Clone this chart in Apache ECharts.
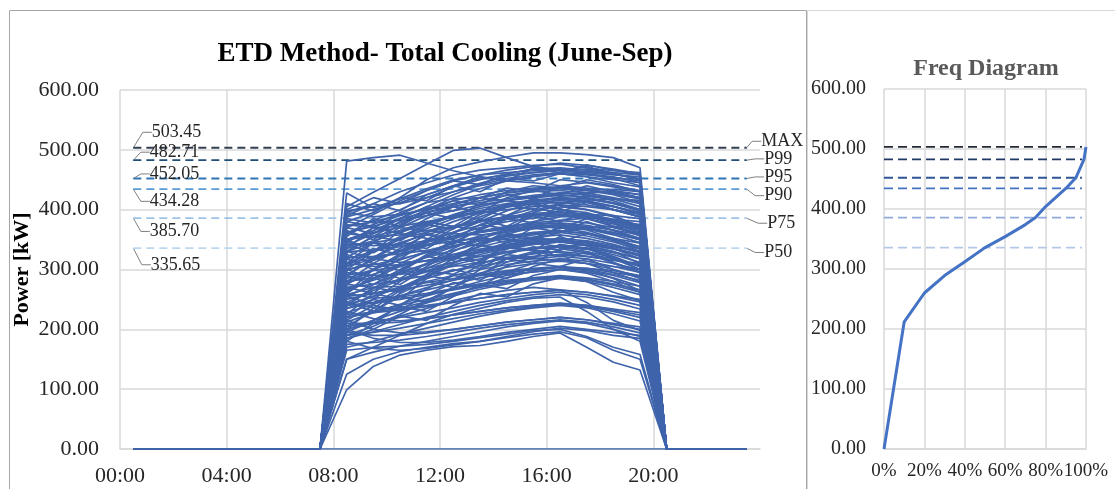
<!DOCTYPE html>
<html>
<head>
<meta charset="utf-8">
<script src="https://cdn.jsdelivr.net/npm/echarts@6/dist/echarts.min.js"></script>
<style>
  html, body { margin: 0; padding: 0; background: #fff; }
  #chart { width: 1115px; height: 489px; }
</style>
</head>
<body>
<div id="chart"></div>
<script>
// x axis tick labels (every 4 h)
const timeTicks = ['00:00', '04:00', '08:00', '12:00', '16:00', '20:00'];
// plant off: hours 0-7 and 20-23
const offBefore = [0, 0, 0, 0, 0, 0, 0, 0];
const offAfter = [0, 0, 0, 0];
// daily cooling load, hours 08:00 .. 19:00 [kW]
const dayProfiles = [
  [481, 487, 491, 478, 465, 455, 448, 445, 440, 436, 432, 425],
  [405, 429, 452, 476, 499, 503, 487, 472, 466, 460, 455, 445],
  [380, 395, 420, 450, 470, 480, 488, 495, 495, 492, 487, 470],
  [428, 403, 418, 435, 450, 458, 462, 465, 468, 462, 458, 455],
  [395, 410, 430, 445, 458, 466, 470, 474, 476, 470, 465, 462],
  [370, 392, 415, 432, 448, 458, 466, 472, 478, 474, 468, 460],
  [360, 382, 400, 420, 438, 450, 460, 468, 470, 466, 460, 452],
  [388, 400, 412, 425, 440, 452, 458, 462, 466, 468, 462, 458],
  [345, 370, 392, 412, 430, 444, 456, 462, 466, 464, 460, 450],
  [398, 405, 410, 420, 430, 440, 448, 455, 460, 458, 454, 448],
  [350, 365, 385, 405, 425, 442, 452, 458, 462, 460, 452, 440],
  [330, 355, 380, 400, 420, 435, 448, 456, 460, 455, 450, 445],
  [395, 388, 392, 400, 410, 420, 428, 432, 435, 432, 428, 420],
  [372, 380, 390, 402, 415, 425, 432, 436, 438, 434, 426, 418],
  [340, 360, 378, 395, 408, 420, 428, 434, 436, 432, 425, 412],
  [320, 345, 370, 390, 405, 415, 424, 430, 432, 428, 420, 410],
  [385, 378, 382, 390, 398, 408, 415, 420, 424, 422, 418, 415],
  [362, 372, 385, 395, 405, 412, 418, 424, 428, 425, 418, 405],
  [300, 330, 355, 375, 392, 405, 415, 422, 425, 420, 412, 400],
  [350, 356, 365, 378, 390, 402, 410, 416, 420, 418, 410, 398],
  [335, 348, 362, 376, 388, 398, 406, 412, 415, 412, 405, 395],
  [310, 330, 350, 368, 385, 398, 408, 414, 418, 414, 406, 392],
  [375, 370, 372, 380, 388, 395, 400, 405, 408, 405, 400, 392],
  [290, 318, 342, 362, 380, 394, 404, 410, 412, 408, 400, 388],
  [360, 355, 358, 365, 372, 380, 386, 390, 392, 388, 382, 375],
  [340, 345, 352, 362, 372, 382, 388, 392, 395, 390, 382, 372],
  [318, 330, 345, 358, 370, 380, 388, 394, 396, 392, 384, 370],
  [298, 315, 332, 348, 362, 374, 384, 390, 392, 388, 380, 368],
  [275, 300, 322, 340, 356, 370, 380, 386, 390, 385, 376, 362],
  [330, 332, 338, 346, 355, 364, 372, 378, 382, 378, 370, 360],
  [345, 340, 342, 348, 355, 362, 368, 372, 375, 372, 366, 358],
  [305, 318, 330, 342, 352, 362, 370, 376, 378, 374, 366, 352],
  [285, 300, 316, 330, 344, 356, 366, 372, 375, 370, 362, 350],
  [262, 285, 305, 322, 338, 352, 364, 370, 372, 368, 358, 345],
  [320, 322, 326, 332, 340, 348, 355, 360, 364, 360, 352, 344],
  [300, 308, 318, 328, 338, 348, 356, 362, 365, 360, 350, 338],
  [278, 292, 306, 320, 332, 344, 352, 358, 362, 356, 346, 334],
  [255, 275, 294, 310, 325, 338, 348, 354, 358, 352, 342, 330],
  [310, 305, 308, 315, 322, 330, 338, 344, 348, 345, 338, 330],
  [290, 298, 306, 315, 325, 334, 342, 348, 352, 348, 340, 328],
  [268, 282, 296, 308, 320, 332, 340, 346, 350, 345, 336, 322],
  [245, 265, 282, 298, 312, 325, 335, 342, 346, 340, 330, 318],
  [330, 318, 312, 314, 320, 328, 336, 342, 346, 342, 334, 325],
  [280, 286, 294, 302, 312, 322, 330, 336, 340, 336, 328, 318],
  [258, 270, 284, 296, 308, 318, 328, 334, 338, 334, 325, 312],
  [240, 255, 270, 285, 298, 310, 320, 326, 330, 326, 318, 305],
  [295, 290, 292, 298, 305, 312, 318, 322, 325, 322, 315, 308],
  [270, 275, 282, 290, 298, 306, 313, 318, 322, 318, 310, 300],
  [250, 260, 270, 280, 290, 300, 308, 314, 318, 314, 305, 295],
  [228, 242, 256, 270, 282, 294, 304, 310, 314, 310, 300, 288],
  [275, 270, 272, 278, 285, 292, 298, 302, 305, 302, 295, 288],
  [255, 260, 266, 274, 282, 290, 296, 300, 304, 300, 292, 282],
  [235, 245, 256, 266, 276, 286, 294, 300, 303, 298, 290, 278],
  [212, 228, 242, 256, 268, 280, 290, 296, 300, 296, 286, 272],
  [260, 252, 254, 260, 268, 276, 282, 286, 290, 286, 280, 272],
  [240, 244, 250, 258, 266, 274, 280, 286, 288, 284, 276, 266],
  [220, 230, 240, 250, 260, 270, 278, 284, 287, 282, 274, 262],
  [200, 215, 230, 244, 256, 267, 276, 282, 285, 280, 270, 258],
  [245, 236, 235, 240, 246, 252, 258, 262, 265, 262, 256, 250],
  [225, 228, 232, 238, 245, 252, 258, 262, 266, 262, 255, 246],
  [205, 212, 220, 228, 236, 245, 252, 258, 262, 258, 250, 240],
  [185, 196, 208, 220, 230, 240, 248, 254, 258, 254, 246, 234],
  [230, 218, 214, 218, 224, 230, 236, 240, 244, 240, 234, 228],
  [210, 210, 212, 218, 224, 230, 236, 240, 243, 240, 232, 224],
  [190, 195, 202, 210, 218, 226, 232, 238, 242, 238, 230, 220],
  [170, 180, 192, 202, 212, 222, 230, 236, 240, 236, 226, 214],
  [215, 200, 194, 196, 200, 206, 212, 216, 220, 216, 210, 204],
  [195, 190, 190, 194, 200, 206, 212, 216, 220, 216, 208, 200],
  [175, 178, 182, 188, 195, 202, 208, 212, 216, 212, 204, 194],
  [150, 162, 172, 180, 188, 196, 204, 210, 214, 210, 200, 188],
  [99, 138, 157, 165, 171, 173, 180, 188, 194, 170, 145, 132],
  [125, 150, 163, 170, 176, 180, 186, 192, 196, 186, 165, 150],
  [165, 170, 172, 175, 180, 186, 192, 198, 200, 188, 170, 158],
  [180, 168, 165, 168, 174, 180, 188, 196, 202, 198, 190, 185],
  [200, 185, 178, 178, 182, 188, 195, 200, 205, 200, 195, 190],
  [220, 250, 280, 305, 330, 350, 368, 380, 388, 392, 390, 385],
  [200, 235, 265, 292, 318, 340, 358, 372, 382, 386, 384, 380],
  [260, 290, 318, 345, 368, 388, 404, 418, 428, 432, 434, 430],
  [240, 268, 296, 322, 346, 366, 384, 398, 410, 416, 418, 415],
  [180, 210, 240, 268, 292, 314, 334, 350, 362, 370, 372, 368],
  [330, 345, 340, 330, 325, 322, 320, 318, 315, 310, 305, 300],
  [380, 372, 360, 352, 346, 340, 336, 332, 328, 322, 316, 310],
  [300, 310, 305, 298, 292, 290, 292, 296, 300, 302, 298, 290],
  [350, 362, 370, 365, 360, 358, 362, 368, 372, 368, 360, 350],
  [280, 300, 325, 340, 348, 352, 350, 345, 338, 330, 320, 305],
  [360, 375, 395, 412, 418, 420, 415, 408, 400, 390, 378, 365],
  [240, 255, 270, 290, 310, 330, 345, 352, 350, 340, 320, 300],
  [310, 320, 330, 345, 362, 380, 398, 412, 422, 428, 430, 425],
  [190, 205, 225, 248, 270, 292, 312, 328, 338, 342, 336, 325],
  [220, 228, 236, 246, 258, 272, 286, 298, 305, 300, 285, 265],
  [150, 170, 190, 210, 225, 235, 245, 252, 254, 230, 200, 180],
  [200, 210, 222, 235, 248, 258, 265, 270, 266, 245, 215, 198],
  [310, 345, 330, 360, 350, 375, 368, 390, 380, 395, 372, 360],
  [270, 260, 295, 285, 320, 310, 340, 332, 355, 340, 330, 310],
  [350, 330, 365, 380, 372, 398, 390, 410, 402, 415, 400, 388],
  [225, 260, 250, 285, 300, 290, 318, 330, 322, 335, 318, 300],
  [390, 410, 398, 425, 440, 430, 452, 448, 460, 455, 445, 438],
  [300, 285, 310, 330, 318, 345, 360, 352, 370, 362, 350, 335],
  [260, 300, 285, 310, 335, 355, 345, 370, 362, 380, 365, 350],
  [335, 370, 360, 385, 405, 395, 420, 432, 425, 440, 430, 420],
  [205, 230, 255, 245, 270, 292, 285, 305, 318, 310, 295, 280],
  [365, 350, 375, 395, 385, 410, 425, 418, 440, 445, 438, 430],
  [290, 320, 345, 335, 360, 385, 372, 395, 408, 400, 390, 372],
  [245, 230, 260, 280, 270, 300, 318, 310, 335, 328, 310, 295],
  [410, 398, 420, 415, 440, 455, 448, 470, 465, 472, 460, 450],
  [318, 300, 326, 350, 342, 368, 385, 378, 400, 395, 382, 368],
  [280, 310, 298, 325, 348, 340, 365, 375, 368, 385, 372, 356],
  [235, 250, 240, 268, 290, 282, 306, 320, 314, 330, 312, 296],
  [355, 385, 372, 398, 415, 408, 430, 440, 436, 450, 442, 430],
  [195, 215, 238, 230, 255, 275, 268, 290, 300, 294, 280, 262],
  [325, 310, 335, 358, 350, 375, 390, 385, 405, 400, 388, 372],
  [370, 360, 385, 405, 398, 420, 436, 430, 450, 446, 440, 432],
  [265, 285, 275, 302, 320, 315, 340, 352, 346, 360, 348, 330],
  [305, 335, 325, 350, 372, 366, 390, 402, 396, 412, 400, 388],
  [215, 240, 232, 258, 278, 272, 296, 310, 305, 318, 300, 285],
  [342, 328, 352, 375, 368, 392, 408, 400, 420, 415, 405, 395],
  [255, 242, 268, 290, 282, 308, 325, 320, 342, 335, 322, 305],
  [400, 420, 410, 432, 448, 442, 460, 468, 462, 475, 466, 458],
  [185, 200, 222, 215, 240, 260, 254, 276, 286, 280, 262, 248],
  [290, 275, 300, 322, 315, 340, 356, 350, 372, 366, 352, 338],
  [330, 355, 348, 372, 390, 384, 405, 416, 410, 425, 415, 400],
  [240, 270, 262, 288, 308, 302, 325, 338, 332, 348, 335, 318],
  [0, 0, 0, 0, 0, 0, 0, 0, 0, 0, 0, 0]
];
// percentile levels
const pctNames = ['MAX', 'P99', 'P95', 'P90', 'P75', 'P50'];
const pctValues = [503.45, 482.71, 452.05, 434.28, 385.70, 335.65];
// frequency (duration) curve
const freqPct = [0, 10, 20, 30, 40, 50, 60, 70, 75, 80, 90, 95, 99, 100];
const freqPower = [0, 212, 260, 289, 312, 335.65, 354, 374, 385.70, 404, 434.28, 452.05, 482.71, 503.45];

const serif = "'Liberation Serif', 'Times New Roman', serif";
const mainDash = ['#333F50', '#1F4E79', '#2E75B6', '#5B9BD5', '#9DC3E6', '#BDD7EE'];
const freqDash = ['#222A35', '#1F3864', '#2F5597', '#4472C4', '#8FAADC', '#B4C7E7'];
// label offsets [dx, dy] for value (left) and name (right) labels
const leftOffsets = [[18, -15.5], [16, -8], [16, -4.6], [16, 12.2], [16, 13.2], [17, 16.6]];
const rightOffsets = [[14, -6.5], [17, -1.3], [17, -1.6], [17, 6.5], [20, 5], [17, 4.3]];

const grid = { color: '#d9d9d9', width: 1.5 };

const chart = echarts.init(document.getElementById('chart'));

const series = [];
pctValues.forEach(function (v, i) {
  series.push({
    type: 'line',
    xAxisIndex: 0, yAxisIndex: 0,
    symbol: 'circle', symbolSize: 1, showSymbol: true,
    itemStyle: { color: mainDash[i] },
    lineStyle: { color: mainDash[i], width: 1.8, type: [8, 5] },
    z: 1,
    labelLine: { show: true, length2: 9, lineStyle: { color: '#7f7f7f', width: 1 } },
    labelLayout: function (p) {
      const o = p.dataIndex === 0 ? leftOffsets[i] : rightOffsets[i];
      return { dx: o[0], dy: o[1] };
    },
    data: [
      { value: [0.5, v], label: { show: true, position: 'right', distance: 0, formatter: v.toFixed(2), fontFamily: serif, fontSize: 18, color: '#262626' } },
      { value: [23.5, v], label: { show: true, position: 'right', distance: 0, formatter: pctNames[i], fontFamily: serif, fontSize: 18, color: '#262626' } }
    ]
  });
});

dayProfiles.forEach(function (day) {
  const full = offBefore.concat(day, offAfter);
  series.push({
    type: 'line',
    xAxisIndex: 0, yAxisIndex: 0,
    showSymbol: false,
    silent: true,
    lineStyle: { color: '#3F64AB', width: 1.7 },
    z: 2,
    data: full.map(function (val, h) { return [h + 0.5, val]; })
  });
});

pctValues.forEach(function (v, i) {
  series.push({
    type: 'line',
    xAxisIndex: 1, yAxisIndex: 1,
    showSymbol: false,
    lineStyle: { color: freqDash[i], width: 1.8, type: [9, 5] },
    data: [[0, v], [98, v]]
  });
});

series.push({
  type: 'line',
  xAxisIndex: 1, yAxisIndex: 1,
  showSymbol: false,
  lineStyle: { color: '#4472C4', width: 3 },
  z: 3,
  data: freqPct.map(function (p, i) { return [p, freqPower[i]]; })
});

const option = {
  backgroundColor: '#fff',
  animation: false,
  title: [
    {
      text: 'ETD Method- Total Cooling (June-Sep)',
      left: 440, top: 36, textAlign: 'center',
      textStyle: { fontFamily: serif, fontSize: 27, fontWeight: 'bold', color: '#000' }
    },
    {
      text: 'Freq Diagram',
      left: 981, top: 52, textAlign: 'center',
      textStyle: { fontFamily: serif, fontSize: 24, fontWeight: 'bold', color: '#595959' }
    }
  ],
  graphic: [
    { type: 'rect', shape: { x: 9.5, y: 10.5, width: 797, height: 500 }, style: { fill: 'none', stroke: '#a6a6a6', lineWidth: 1 }, silent: true },
    { type: 'rect', shape: { x: 807.5, y: 10.5, width: 330, height: 500 }, style: { fill: 'none', stroke: '#d9d9d9', lineWidth: 1 }, silent: true }
  ],
  grid: [
    { left: 120, top: 90, width: 640, height: 359, outerBoundsMode: 'none' },
    { left: 884, top: 89, width: 202, height: 360, outerBoundsMode: 'none' }
  ],
  xAxis: [
    {
      type: 'value', gridIndex: 0, min: 0, max: 24, interval: 4,
      axisLine: { show: true, lineStyle: grid },
      axisTick: { show: false },
      axisLabel: {
        formatter: function (v) { return timeTicks[v / 4] || ''; },
        showMaxLabel: false, margin: 16,
        fontFamily: serif, fontSize: 22, color: '#262626'
      },
      splitLine: { show: true, showMaxLine: false, lineStyle: grid }
    },
    {
      type: 'value', gridIndex: 1, min: 0, max: 100, interval: 20,
      axisLine: { show: true, lineStyle: grid },
      axisTick: { show: false },
      axisLabel: {
        formatter: '{value}%', margin: 13, showMaxLabel: true, hideOverlap: false,
        fontFamily: serif, fontSize: 19, color: '#262626'
      },
      splitLine: { show: true, lineStyle: grid }
    }
  ],
  yAxis: [
    {
      type: 'value', gridIndex: 0, min: 0, max: 600, interval: 100,
      axisLine: { show: false },
      axisTick: { show: false },
      axisLabel: {
        formatter: function (v) { return v.toFixed(2); }, margin: 21,
        fontFamily: serif, fontSize: 22, color: '#262626'
      },
      splitLine: { show: true, lineStyle: grid },
      name: 'Power [kW]', nameLocation: 'middle', nameGap: 87, nameMoveOverlap: false,
      nameTextStyle: { fontFamily: serif, fontSize: 22, fontWeight: 'bold', color: '#000' }
    },
    {
      type: 'value', gridIndex: 1, min: 0, max: 600, interval: 100,
      axisLine: { show: false },
      axisTick: { show: false },
      axisLabel: {
        formatter: function (v) { return v.toFixed(2); }, margin: 18,
        fontFamily: serif, fontSize: 20, color: '#262626'
      },
      splitLine: { show: true, lineStyle: grid }
    }
  ],
  series: series
};

chart.setOption(option);
</script>
</body>
</html>
